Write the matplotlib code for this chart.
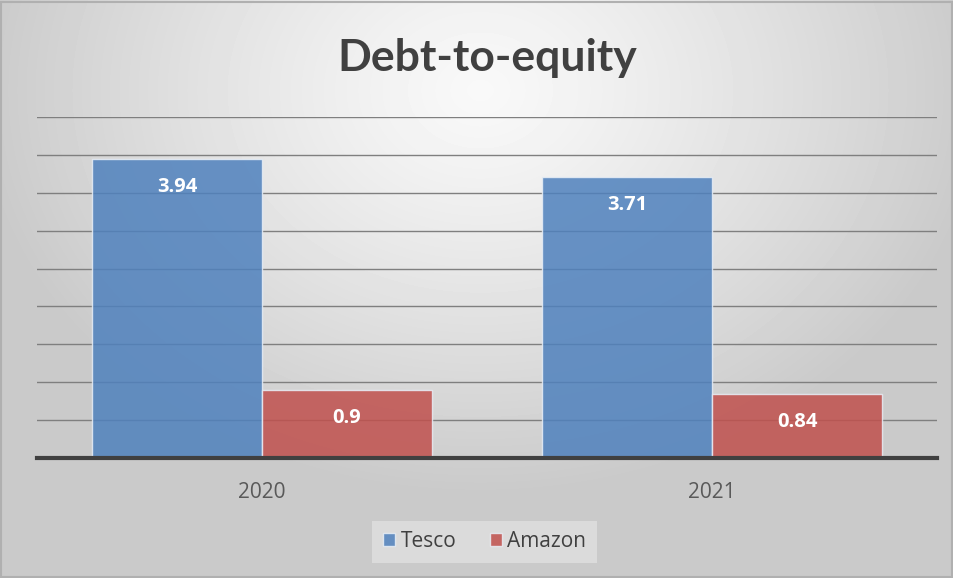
import numpy as np
import matplotlib
matplotlib.use("Agg")
import matplotlib.pyplot as plt

years = ["2020", "2021"]
series_names = ["Tesco", "Amazon"]
tesco = [3.94, 3.71]
amazon = [0.9, 0.84]
label_text = {"Tesco": ["3.94", "3.71"], "Amazon": ["0.9", "0.84"]}
colors = {"Tesco": "#4F81BD", "Amazon": "#C0504D"}

plt.rcParams["font.family"] = ["Open Sans", "DejaVu Sans"]

fig = plt.figure(figsize=(9.54, 5.78), dpi=100)

# radial gray background, light in the upper middle
bg = fig.add_axes([0, 0, 1, 1], zorder=-10)
yy, xx = np.mgrid[0:578, 0:954]
r = np.sqrt(((xx - 480) / 650.0) ** 2 + ((yy - 90) / 520.0) ** 2)
shade = np.clip(0.975 - 0.25 * r ** 1.2, 0.79, 1.0)
bg.imshow(shade, cmap="gray", vmin=0, vmax=1, aspect="auto", extent=[0, 1, 0, 1])
bg.set_axis_off()
bg.add_patch(plt.Rectangle((0.001, 0.002), 0.997, 0.995, fill=False,
                           edgecolor="#b0b0b0", linewidth=1.5))

ax = fig.add_axes([0.0388, 0.2076, 0.9434, 0.59])
ax.patch.set_alpha(0)

x = np.arange(len(years))
w = 0.378
vals = {"Tesco": tesco, "Amazon": amazon}
for i, name in enumerate(series_names):
    pos = x + (i - 0.5) * w
    bars = ax.bar(pos, vals[name], width=w, color=colors[name], alpha=0.85,
                  edgecolor="#e8eef6", linewidth=1, label=name, zorder=3)
    for b, txt in zip(bars, label_text[name]):
        ax.annotate(txt, (b.get_x() + b.get_width() / 2, b.get_height()),
                    xytext=(0, -20), textcoords="offset points",
                    ha="center", va="center", color="white",
                    fontsize=14.5, fontweight="bold", zorder=5)

ax.set_xlim(-0.5, 1.5)
ax.set_ylim(0, 4.5)
ax.set_yticks(np.arange(0.5, 4.51, 0.5))
ax.yaxis.grid(True, color="#7f7f7f", linewidth=1, zorder=4)
ax.tick_params(axis="y", left=False, labelleft=False)
ax.tick_params(axis="x", bottom=False, labelsize=15, labelcolor="#595959", pad=14)
ax.set_xticks(x)
ax.set_xticklabels(years)
for s in ["top", "right", "left"]:
    ax.spines[s].set_visible(False)
ax.spines["bottom"].set_color("#404040")
ax.spines["bottom"].set_linewidth(3)
ax.spines["bottom"].set_zorder(6)

fig.text(0.511, 0.9, "Debt-to-equity", ha="center", va="center",
         fontsize=32, fontweight="bold", color="#404040", family="Lato")

leg = fig.legend(loc="center", bbox_to_anchor=(0.508, 0.063), ncol=2,
                 frameon=True, fontsize=15, handlelength=0.6, handleheight=0.6,
                 handletextpad=0.25, columnspacing=1.6, borderpad=0.5)
leg.get_frame().set_facecolor("#e0e0e0")
leg.get_frame().set_edgecolor("none")
leg.get_frame().set_alpha(0.8)
leg.get_frame().set_boxstyle("square", pad=0.0)
for t in leg.get_texts():
    t.set_color("#404040")

fig.savefig("out.png", dpi=100)
